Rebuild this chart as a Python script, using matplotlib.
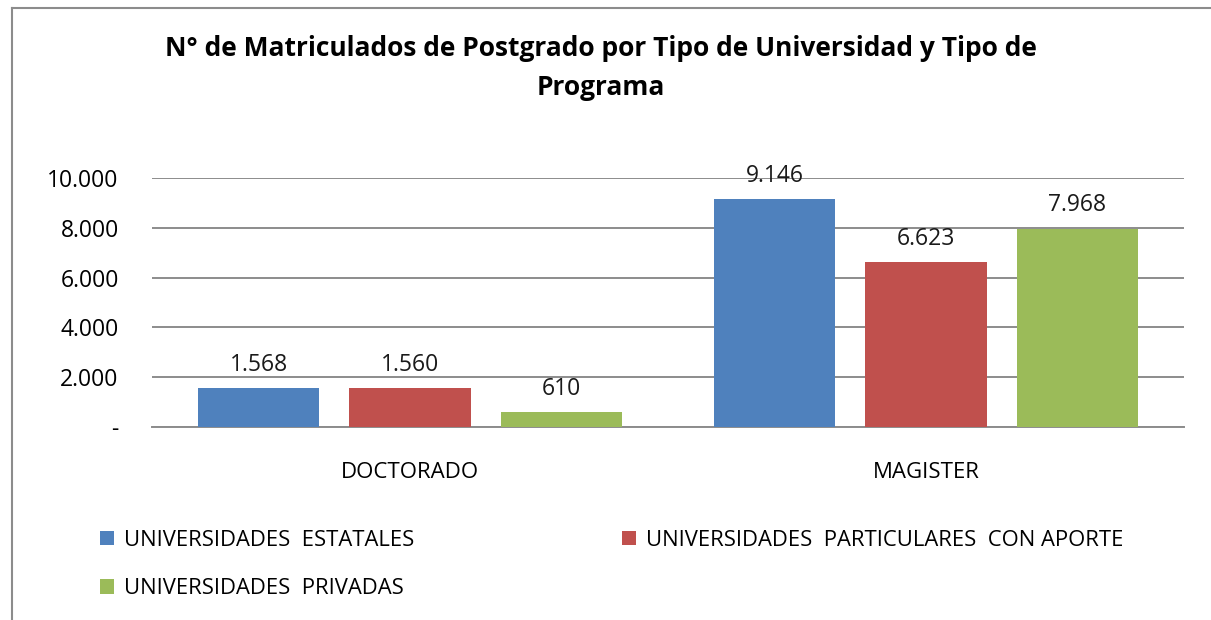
import matplotlib
matplotlib.use("Agg")
import matplotlib.pyplot as plt
from matplotlib.lines import Line2D
import numpy as np

categories = ["DOCTORADO", "MAGISTER"]
series_names = ["UNIVERSIDADES  ESTATALES",
                "UNIVERSIDADES  PARTICULARES  CON APORTE",
                "UNIVERSIDADES  PRIVADAS"]
estatales = [1568, 9146]
particulares = [1560, 6623]
privadas = [610, 7968]
yticks = [0, 2000, 4000, 6000, 8000, 10000]
ytick_labels = ["-", "2.000", "4.000", "6.000", "8.000", "10.000"]
title = "N° de Matriculados de Postgrado por Tipo de Universidad y Tipo de\nPrograma"

colors = ["#4F81BD", "#C0504D", "#9BBB59"]
font = ["Open Sans", "DejaVu Sans"]
plt.rcParams["font.family"] = font

fig = plt.figure(figsize=(12.11, 6.2), dpi=100)
ax = fig.add_axes([152/1211, 1-427/620, (1184-152)/1211, (427-178)/620])

x = np.arange(len(categories))
offsets = [-0.293, 0.0, 0.293]
width = 0.235
all_series = [estatales, particulares, privadas]
handles = []
for vals, off, c, name in zip(all_series, offsets, colors, series_names):
    bars = ax.bar(x + off, vals, width, color=c, label=name, zorder=3)
    handles.append(bars)
    for xi, v in zip(x + off, vals):
        lab = f"{v:,}".replace(",", ".")
        ax.annotate(lab, (xi, v), xytext=(0, 8), textcoords="offset points",
                    ha="center", va="bottom", fontsize=16.5, color="#1a1a1a")

ax.set_xlim(-0.5, 1.5)
ax.set_ylim(0, 10000)
ax.set_yticks(yticks)
ax.set_yticklabels(ytick_labels, fontsize=16.5)
ax.set_xticks(x)
ax.set_xticklabels(categories, fontsize=16)
ax.tick_params(axis="y", length=0, pad=24)
ax.tick_params(axis="x", length=0, pad=25)
ax.grid(axis="y", color="#8c8c8c", linewidth=1.4, zorder=0)
for s in ["left", "right", "top"]:
    ax.spines[s].set_visible(False)
ax.spines["bottom"].set_color("#8c8c8c")
ax.spines["bottom"].set_linewidth(1.4)
ax.set_axisbelow(True)

fig.text(0.496, 1-68/620, title, ha="center", va="center", fontsize=19,
         fontweight="bold", linespacing=1.6)

# frame (top and left)
fig.add_artist(Line2D([12/1211, 1.0], [1-8/620, 1-8/620], color="#8c8c8c", lw=1.5,
                      transform=fig.transFigure))
fig.add_artist(Line2D([12/1211, 12/1211], [0, 1-8/620], color="#8c8c8c", lw=1.5,
                      transform=fig.transFigure))

order = [0, 2, 1]
leg = fig.legend([handles[i] for i in order], [series_names[i] for i in order],
                 loc="upper left", bbox_to_anchor=(80/1211, 1-510/620), ncol=2,
                 frameon=False, fontsize=15.8, handlelength=0.65, handleheight=0.65,
                 handletextpad=0.45, columnspacing=9.45, labelspacing=1.25)

fig.savefig("out.png", dpi=100)
